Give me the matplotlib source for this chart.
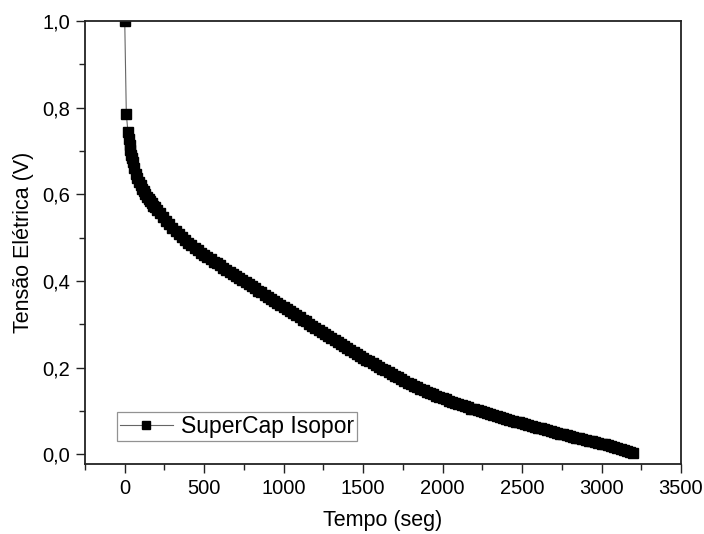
import matplotlib
matplotlib.use("Agg")
import matplotlib.pyplot as plt
from matplotlib.ticker import FuncFormatter, MultipleLocator

plt.rcParams["font.family"] = ["Liberation Sans", "DejaVu Sans"]

# discharge curve (time in s, voltage in V)
tempo_inicio = [0, 10, 20, 25, 30, 35, 40, 45, 50, 60, 70, 80, 90, 100,
                110, 120, 130, 140, 150, 160, 170, 180, 190, 200]
tensao_inicio = [1.000, 0.785, 0.745, 0.728, 0.714, 0.702, 0.692, 0.683, 0.674,
                 0.660, 0.648, 0.638, 0.629, 0.621, 0.613, 0.607, 0.600, 0.595,
                 0.589, 0.584, 0.579, 0.574, 0.570, 0.565]

tempo_resto = list(range(220, 3201, 20))
tensao_resto = [
    0.556, 0.547, 0.539, 0.531, 0.523, 0.516, 0.508, 0.501, 0.495, 0.489,
    0.483, 0.477, 0.471, 0.465, 0.460, 0.455, 0.450, 0.445, 0.441, 0.436,
    0.431, 0.426, 0.422, 0.417, 0.412, 0.407, 0.402, 0.398, 0.393, 0.388,
    0.383, 0.378, 0.374, 0.369, 0.364, 0.359, 0.354, 0.350, 0.345, 0.340,
    0.335, 0.330, 0.326, 0.321, 0.316, 0.311, 0.307, 0.302, 0.297, 0.292,
    0.287, 0.283, 0.278, 0.273, 0.268, 0.264, 0.259, 0.255, 0.250, 0.246,
    0.241, 0.237, 0.232, 0.228, 0.223, 0.219, 0.215, 0.210, 0.206, 0.202,
    0.198, 0.194, 0.190, 0.186, 0.182, 0.178, 0.174, 0.170, 0.166, 0.162,
    0.159, 0.155, 0.152, 0.148, 0.145, 0.142, 0.139, 0.136, 0.133, 0.130,
    0.127, 0.124, 0.122, 0.119, 0.116, 0.114, 0.111, 0.109, 0.106, 0.104,
    0.102, 0.100, 0.097, 0.095, 0.093, 0.091, 0.089, 0.086, 0.084, 0.082,
    0.080, 0.078, 0.076, 0.074, 0.072, 0.070, 0.068, 0.066, 0.064, 0.062,
    0.060, 0.058, 0.056, 0.054, 0.052, 0.050, 0.048, 0.047, 0.045, 0.043,
    0.041, 0.039, 0.038, 0.036, 0.034, 0.032, 0.030, 0.029, 0.027, 0.025,
    0.023, 0.021, 0.020, 0.018, 0.016, 0.013, 0.011, 0.009, 0.006, 0.003,
]

tempo = tempo_inicio + tempo_resto
tensao = tensao_inicio + tensao_resto


def virgula(decimais):
    return FuncFormatter(lambda v, pos: f"{v:.{decimais}f}".replace(".", ","))


fig = plt.figure(figsize=(7.04, 5.34), dpi=100)
ax = fig.add_axes([85 / 704, 70 / 534, 596 / 704, 443 / 534])

ax.plot(tempo, tensao, color="#666666", linewidth=0.8, marker="s",
        markersize=6.8, markerfacecolor="black", markeredgecolor="black",
        label="SuperCap Isopor")

ax.set_xlim(-250, 3500)
ax.set_ylim(-0.022, 1.0)
ax.xaxis.set_major_locator(MultipleLocator(500))
ax.xaxis.set_minor_locator(MultipleLocator(250))
ax.yaxis.set_major_locator(MultipleLocator(0.2))
ax.yaxis.set_minor_locator(MultipleLocator(0.1))
ax.yaxis.set_major_formatter(virgula(1))
ax.xaxis.set_major_formatter(virgula(0))

ax.tick_params(which="both", direction="out", top=False, right=False,
               width=1.0, color="#222222", labelsize=14.5)
ax.tick_params(which="major", length=6.5, pad=4)
ax.tick_params(which="minor", length=4)
for spine in ax.spines.values():
    spine.set_linewidth(1.3)
    spine.set_color("#222222")

ax.set_xlabel("Tempo (seg)", fontsize=15.5, labelpad=9)
ax.set_ylabel("Tensão Elétrica (V)", fontsize=15.5, labelpad=6)

leg = ax.legend(loc="lower left", bbox_to_anchor=(0.054, 0.052),
                borderaxespad=0, fontsize=16.5, frameon=True, fancybox=False,
                handlelength=2.3, handletextpad=0.35, borderpad=0.12,
                markerscale=0.85)
leg.get_frame().set_edgecolor("#777777")
leg.get_frame().set_linewidth(0.9)

fig.savefig("out.png", dpi=100, facecolor="white")
